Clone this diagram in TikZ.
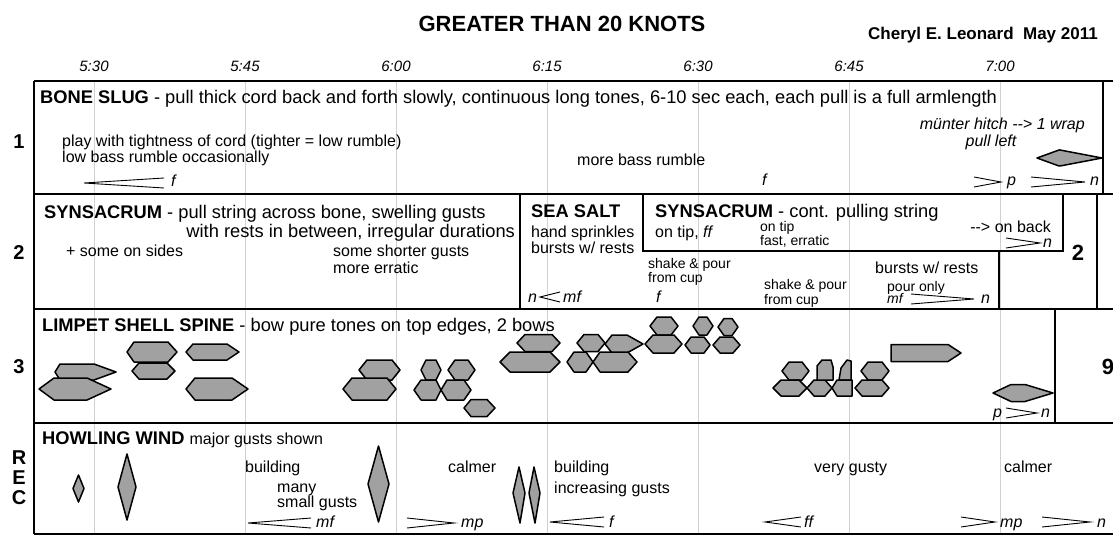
\documentclass[tikz,border=0pt]{standalone}
\usepackage{fontspec}
\setmainfont{Liberation Sans}
\usetikzlibrary{positioning}

%% ---- font sizes (1pt = 1px of the score)
\newcommand{\fTitle}{\fontsize{22}{26}\selectfont\bfseries}
\newcommand{\fAuthor}{\fontsize{17}{20}\selectfont\bfseries}
\newcommand{\fHead}{\fontsize{18.3}{17}\selectfont}
\newcommand{\fBody}{\fontsize{16}{16}\selectfont}
\newcommand{\fSmall}{\fontsize{14}{14}\selectfont}
\newcommand{\fTime}{\fontsize{15}{18}\selectfont\itshape}
\newcommand{\fRow}{\fontsize{20}{22}\selectfont\bfseries}
\newcommand{\fBig}{\fontsize{22}{24}\selectfont\bfseries}
\newcommand{\dasharr}{-\kern0pt-\kern0pt>}

%% ---- score symbols
\newcommand{\limpet}[6]{% x1, x2, y, half height, left tip, right tip
  \draw[shell] (#1,#3) -- (#1+#5,#3-#4) -- (#2-#6,#3-#4) -- (#2,#3)
    -- (#2-#6,#3+#4) -- (#1+#5,#3+#4) -- cycle;}
\newcommand{\gust}[4]{% x, y, half width, half height
  \draw[shell] (#1,#2-#4) -- (#1+#3,#2) -- (#1,#2+#4) -- (#1-#3,#2) -- cycle;}
\newcommand{\cresc}[3]{\draw[hair] (#2,#3-5) -- (#1,#3) -- (#2,#3+5);}
\newcommand{\decresc}[3]{\draw[hair] (#1,#3-5) -- (#2,#3) -- (#1,#3+5);}

\begin{document}
\begin{tikzpicture}[x=1pt, y=-1pt,
  frame/.style={line width=1.6pt},
  grid/.style={black!18, line width=0.7pt},
  txt/.style={anchor=base west, inner sep=0pt, font=\fBody},
  head/.style={anchor=base west, inner sep=0pt, font=\fHead},
  small/.style={anchor=base west, inner sep=0pt, font=\fSmall},
  dyn/.style={anchor=base west, inner sep=0pt, font=\fBody\itshape},
  time/.style={anchor=base, inner sep=0pt, font=\fTime},
  rowno/.style={inner sep=0pt, font=\fRow},
  shell/.style={draw, fill=black!37, line width=1.5pt, line join=round},
  hair/.style={line width=0.9pt},
]
\useasboundingbox (0,0) rectangle (1113,537);
\fill[white] (0,0) rectangle (1113,537);

%% ---- row edges (top to bottom)
\def\yA{81}  % top
\def\yB{194} % 1 / 2
\def\yC{309} % 2 / 3
\def\yD{423} % 3 / rec
\def\yE{534} % bottom

%% ---- header and time line
\node[anchor=base, inner sep=0pt, font=\fTitle] (title) at (562,32) {GREATER THAN 20 KNOTS};
\node[anchor=base east, inner sep=0pt, font=\fAuthor] (author) at (1098,40) {Cheryl E. Leonard\ \ May 2011};

\foreach \tm [count=\i from 0] in {5:30,5:45,6:00,6:15,6:30,6:45,7:00} {
  \draw[grid] (94+151*\i,\yA) -- (94+151*\i,\yE);
  \node[time] (time\i) at (94+151*\i,72) {\tm};
}

%% ---- frame
\foreach \y in {\yA,\yB,\yC,\yD,\yE}
  \draw[frame] (34,\y) -- (1113,\y);
\draw[frame] (34,\yA) -- (34,\yE);
\draw[frame] (1103,\yA) -- (1103,\yB);
\draw[frame] (520,\yB) -- (520,\yC);
\draw[frame] (643,\yB) -- (643,251) -- (1063,251) -- (1063,\yB);
\draw[frame] (999,251) -- (999,\yC);
\draw[frame] (1097,\yB) -- (1097,\yC);
\draw[frame] (1055,\yC) -- (1055,\yD);

%% ---- row numbers
\node[rowno] (row1) at (19,142) {1};
\node[rowno] (row2) at (19,253) {2};
\node[rowno] (row3) at (19,367) {3};
\node[rowno] (recR) at (19,458) {R};
\node[rowno] (recE) at (19,478) {E};
\node[rowno] (recC) at (19,498) {C};

%% ======== ROW 1 — Bone slug ========
\node[head] (slug) at (40,104) {\textbf{BONE SLUG} - pull thick cord back and forth slowly, continuous long tones, 6-10 sec each, each pull is a full armlength};
\node[txt] (slugA) at (62,147) {play with tightness of cord (tighter = low rumble)};
\node[txt] (slugB) at (62,163) {low bass rumble occasionally};
\cresc{84}{164}{183}
\node[dyn] (slugF) at (171,187) {f};
\node[txt] (slugC) at (577,166) {more bass rumble};
\node[dyn] (slugG) at (762,186) {f};
\node[anchor=base east, inner sep=0pt, font=\fBody\itshape] (hitch) at (1085,130) {münter hitch \dasharr{} 1 wrap};
\node[anchor=base, inner sep=0pt, font=\fBody\itshape] (pull) at (991,147) {pull left};
\limpet{1037}{1102}{158}{8}{22}{42}
\decresc{974}{1001}{182}
\node[dyn] (slugP) at (1007,186) {p};
\decresc{1031}{1085}{182}
\node[dyn] (slugN) at (1090,186) {n};

%% ======== ROW 2 — Synsacrum / sea salt ========
\node[head] (syn) at (44,219) {\textbf{SYNSACRUM} - \begin{tabular}[t]{@{}l@{}}pull string across bone, swelling gusts\\\hspace*{8pt}with rests in between, irregular durations\end{tabular}};
\node[txt] (synA) at (66,257) {+ some on sides};
\node[txt] (synB) at (333,257) {some shorter gusts};
\node[txt] (synC) at (333,273) {more erratic};

\node[head] (salt) at (531,218) {\textbf{SEA SALT}};
\node[txt] (saltA) at (531,238) {hand sprinkles};
\node[txt] (saltB) at (531,254) {bursts w/ rests};
\node[dyn] (saltN) at (528,302) {n};
\cresc{540}{560}{297}
\node[dyn] (saltMF) at (563,302) {mf};

\node[head] (cont) at (655,218) {\textbf{SYNSACRUM} - cont. pulling string};
\node[txt] (contA) at (655,238) {on tip, \textit{ff}};
\node[small] (contB) at (760,232) {on tip};
\node[small] (contC) at (760,246) {fast, erratic};
\node[anchor=base east, inner sep=0pt, font=\fBody] (contD) at (1051,233) {\dasharr{} on back};
\decresc{1006}{1040}{243}
\node[dyn] (contN) at (1043,248) {n};

\node[small] (shakeA) at (648,269) {shake \& pour};
\node[small] (shakeB) at (648,283) {from cup};
\node[dyn] (shakeF) at (656,302) {f};
\node[small] (shakeC) at (764,290) {shake \& pour};
\node[small] (shakeD) at (764,304) {from cup};
\node[txt] (burst) at (875,273) {bursts w/ rests};
\node[small] (pour) at (887,291) {pour only};
\node[anchor=base west, inner sep=0pt, font=\fSmall\itshape] (pourMF) at (887,303) {mf};
\decresc{911}{974}{299}
\node[dyn] (pourN) at (981,303) {n};
\node[font=\fBig, inner sep=0pt] (mark2) at (1078,253) {2};

%% ======== ROW 3 — Limpet shell spine ========
\node[head] (limp) at (42,331) {\textbf{LIMPET SHELL SPINE} - bow pure tones on top edges, 2 bows};
\limpet{55}{116}{372}{8}{5}{22}
\limpet{39}{111}{389}{11}{15}{24}
\limpet{127}{177}{352}{10}{7}{9}
\limpet{132}{175}{371}{8}{7}{8}
\limpet{186}{239}{352}{8}{7}{12}
\limpet{186}{248}{389}{11}{9}{16}
\limpet{359}{400}{370}{10}{8}{8}
\limpet{343}{396}{389}{11}{9}{9}
\limpet{421}{441}{370}{10}{5}{5}
\limpet{448}{475}{370}{10}{7}{7}
\limpet{414}{441}{390}{10}{7}{5}
\limpet{441}{471}{390}{10}{6}{7}
\limpet{464}{495}{408}{8.5}{7}{8}
\limpet{517}{560}{343}{8.5}{8}{8}
\limpet{500}{560}{362}{10}{10}{10}
\limpet{577}{605}{343}{8.5}{7}{7}
\limpet{605}{643}{344}{9}{7}{16}
\limpet{567}{593}{362}{10}{7}{7}
\limpet{593}{637}{362}{10}{7}{9}
\limpet{650}{678}{326}{9}{7}{7}
\limpet{645}{682}{344}{9}{8}{8}
\limpet{693}{713}{326}{9}{6}{6}
\limpet{685}{710}{345}{8}{6}{6}
\limpet{718}{738}{327}{8.5}{6}{6}
\limpet{713}{740}{345}{8}{7}{7}
\limpet{782}{809}{371}{9}{7}{7}
\limpet{773}{807}{388}{8}{8}{8}
\limpet{807}{832}{388}{8}{7}{7}
\draw[shell] (817,380) -- (817,366) -- (822,360) -- (831,360) -- (833,367) -- (833,380) -- cycle;
\draw[shell] (839,380) -- (841,368) -- (847,360) -- (851,361) -- (851,380) -- cycle;
\draw[shell] (832,388) -- (837,380) -- (852,380) -- (852,396) -- (837,396) -- cycle;
\limpet{861}{889}{371}{9}{7}{7}
\limpet{855}{889}{388}{8}{7}{7}
\limpet{891}{961}{353}{8.5}{0}{13}
\limpet{993}{1053}{393}{8.5}{18}{28}
\node[dyn] (limpP) at (993,417) {p};
\decresc{1006}{1037}{413}
\node[dyn] (limpN) at (1041,417) {n};
\node[font=\fBig, inner sep=0pt] (mark9) at (1108,367) {9};

%% ======== ROW REC — Howling wind ========
\node[head] (wind) at (42,444) {\textbf{HOWLING WIND} {\fBody major gusts shown}};
\gust{78.5}{488.5}{5.5}{13.5}
\gust{127}{487}{9}{33}
\gust{378.5}{484}{10.5}{38}
\draw[shell] (519,467) -- (525,493) -- (520,523) -- (513,493) -- cycle;
\draw[shell] (534,467) -- (540,493) -- (535,523) -- (529,493) -- cycle;

\node[txt] (windA) at (245,472) {building};
\node[txt] (windB) at (277,492) {many};
\node[txt] (windC) at (277,507) {small gusts};
\cresc{248}{311}{523}
\node[dyn] (windMF) at (316,527) {mf};
\node[txt] (windD) at (448,472) {calmer};
\decresc{407}{454}{523}
\node[dyn] (windMP) at (461,527) {mp};
\node[txt] (windE) at (554,472) {building};
\node[txt] (windF) at (554,493) {increasing gusts};
\cresc{550}{604}{522}
\node[dyn] (windG) at (609,527) {f};
\node[txt] (windH) at (814,472) {very gusty};
\cresc{765}{801}{522}
\node[dyn] (windFF) at (804,527) {ff};
\decresc{961}{995}{522}
\node[dyn] (windMP2) at (1000,527) {mp};
\node[txt] (windI) at (1004,472) {calmer};
\decresc{1042}{1090}{522}
\node[dyn] (windN) at (1097,527) {n};

\end{tikzpicture}
\end{document}
